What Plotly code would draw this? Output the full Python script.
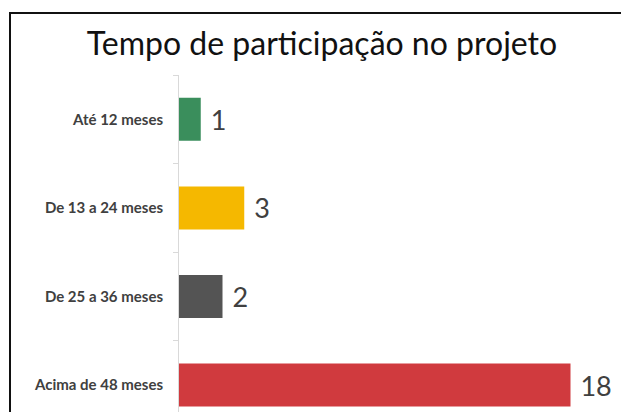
import plotly.graph_objects as go

categories = ["Até 12 meses", "De 13 a 24 meses", "De 25 a 36 meses", "Acima de 48 meses"]
values = [1, 3, 2, 18]
colors = ["#3A8E5C", "#F5B800", "#545454", "#D03A3E"]
title_text = "Tempo de participação no projeto"

W, H = 621, 412
ml, mr, mt, mb = 179, 0, 75, 0

fig = go.Figure(
    go.Bar(
        y=categories,
        x=values,
        orientation="h",
        marker=dict(color=colors, line=dict(width=0)),
        text=[f" {v}" for v in values],
        textposition="outside",
        textfont=dict(family="Lato, Open Sans, sans-serif", size=27, color="#404040"),
        cliponaxis=False,
    )
)

plot_w = W - ml - mr
plot_h = H - mt - mb
# frame lines (screenshot border) in paper coordinates
fx = (10 - ml) / plot_w
fy = (H - 13 - mb) / plot_h

fig.update_layout(
    width=W,
    height=H,
    margin=dict(l=ml, r=mr, t=mt, b=mb, pad=0),
    paper_bgcolor="white",
    plot_bgcolor="white",
    showlegend=False,
    bargap=0.515,
    title=dict(
        text=title_text,
        x=322 / W,
        xanchor="center",
        y=1 - 44 / H,
        yanchor="middle",
        xref="container",
        yref="container",
        font=dict(family="Lato, Open Sans, sans-serif", size=32, color="#111111"),
    ),
    xaxis=dict(
        range=[0, plot_w / 21.75],
        visible=False,
        showgrid=False,
        zeroline=False,
        fixedrange=True,
    ),
    yaxis=dict(
        type="category",
        categoryorder="array",
        categoryarray=categories,
        range=[-0.5 + plot_h / 88.6, -0.5],
        showline=True,
        linecolor="#D9D9D9",
        linewidth=1,
        ticks="outside",
        tickson="boundaries",
        ticklen=5,
        tickcolor="#D9D9D9",
        ticklabelstandoff=12,
        tickfont=dict(family="Lato, Open Sans, sans-serif", size=15, color="#404040", weight="bold"),
        showgrid=False,
        zeroline=False,
        fixedrange=True,
    ),
    shapes=[
        dict(
            type="path",
            xref="paper",
            yref="paper",
            path=f"M {fx} -0.2 L {fx} {fy} L 1.05 {fy}",
            line=dict(color="#111111", width=2),
        )
    ],
)

fig.write_html(
    "out.html",
    config={"displayModeBar": False},
    post_script="document.body.style.margin='0';document.body.style.overflow='hidden';",
)
